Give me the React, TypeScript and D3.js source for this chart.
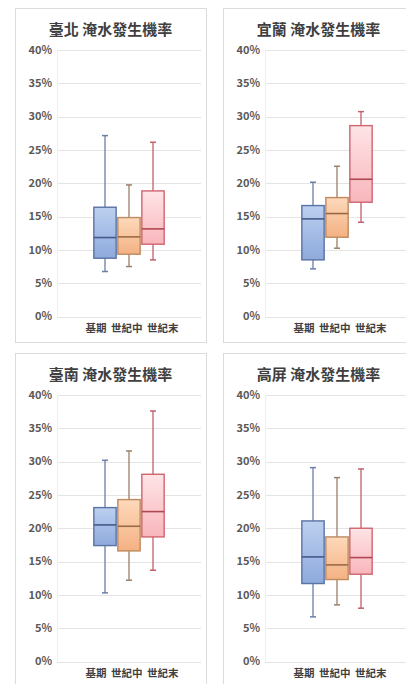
import React, { useEffect, useRef } from "react";
import * as d3 from "d3";

// ---- data ----
const regionTitles = ["臺北 淹水發生機率", "宜蘭 淹水發生機率", "臺南 淹水發生機率", "高屏 淹水發生機率"];
const seriesNames = ["基期", "世紀中", "世紀末"];
const categoryLabel = "基期 世紀中 世紀末";
const yTicks = [0, 5, 10, 15, 20, 25, 30, 35, 40];

// [min, q1, median, q3, max] in %, one entry per region (臺北, 宜蘭, 臺南, 高屏)
const baselineStats = [
  [6.75, 8.75, 11.85, 16.4, 27.15],
  [7.15, 8.5, 14.65, 16.65, 20.15],
  [10.3, 17.4, 20.5, 23.1, 30.2],
  [6.7, 11.7, 15.7, 21.1, 29.1],
];
const midCenturyStats = [
  [7.5, 9.35, 11.95, 14.85, 19.75],
  [10.25, 11.9, 15.45, 17.85, 22.55],
  [12.2, 16.6, 20.3, 24.3, 31.6],
  [8.5, 12.3, 14.5, 18.7, 27.6],
];
const endCenturyStats = [
  [8.5, 10.85, 13.15, 18.85, 26.15],
  [14.15, 17.15, 20.6, 28.65, 30.75],
  [13.7, 18.7, 22.5, 28.1, 37.6],
  [8.0, 13.1, 15.6, 20.0, 28.9],
];

const seriesStats = [baselineStats, midCenturyStats, endCenturyStats];
const seriesStyle = [
  { top: "#bcd0f0", bottom: "#8eaadc", stroke: "#5a72a4", median: "#46598a", whisker: "#6a7ea8" },
  { top: "#fdd9bb", bottom: "#f4b183", stroke: "#bf8a5e", median: "#9b6a44", whisker: "#9a8068" },
  { top: "#fee4e6", bottom: "#f8b6bc", stroke: "#d0646f", median: "#b04652", whisker: "#c0606a" },
];

const W = 406;
const H = 684;
const panelOrigins = [
  [15, 8],
  [223, 8],
  [15, 353],
  [223, 353],
];
const panelW = 191;
const panelH = 334;
const plotLeft = 42;
const plotRight = 186;
const plotTop = 42;
const plotBottom = 308.5;
const fontFamily = "'Noto Sans CJK TC', 'Noto Sans', sans-serif";

export default function App() {
  const ref = useRef<SVGSVGElement | null>(null);

  useEffect(() => {
    const svg = d3.select(ref.current);
    svg.selectAll("*").remove();

    const defs = svg.append("defs");
    seriesStyle.forEach((s, i) => {
      const g = defs
        .append("linearGradient")
        .attr("id", `grad${i}`)
        .attr("x1", 0)
        .attr("y1", 0)
        .attr("x2", 0)
        .attr("y2", 1);
      g.append("stop").attr("offset", "0%").attr("stop-color", s.top);
      g.append("stop").attr("offset", "100%").attr("stop-color", s.bottom);
    });

    svg.append("rect").attr("width", W).attr("height", H).attr("fill", "#ffffff");

    const y = d3.scaleLinear().domain([0, 40]).range([plotBottom, plotTop]);
    const xCat = d3.scaleBand().domain([categoryLabel]).range([plotLeft, plotRight]);
    const center = (xCat(categoryLabel) as number) + xCat.bandwidth() / 2;
    const xSeries = d3
      .scaleBand()
      .domain(seriesNames)
      .range([center - 36, center + 36])
      .paddingInner(0.07)
      .paddingOuter(0.035);

    regionTitles.forEach((title, r) => {
      const [ox, oy] = panelOrigins[r];
      const p = svg.append("g").attr("transform", `translate(${ox},${oy})`);

      p.append("rect")
        .attr("x", 0.5)
        .attr("y", 0.5)
        .attr("width", panelW)
        .attr("height", panelH)
        .attr("fill", "#ffffff")
        .attr("stroke", "#dcdcdc")
        .attr("stroke-width", 1);

      p.append("text")
        .attr("x", panelW / 2)
        .attr("y", 27)
        .attr("text-anchor", "middle")
        .attr("font-family", fontFamily)
        .attr("font-weight", "bold")
        .attr("font-size", 15)
        .attr("fill", "#3f3f3f")
        .text(title);

      // gridlines
      p.selectAll(".grid")
        .data(yTicks)
        .enter()
        .append("line")
        .attr("x1", plotLeft)
        .attr("x2", plotRight)
        .attr("y1", (d) => Math.round(y(d)) + 0.5)
        .attr("y2", (d) => Math.round(y(d)) + 0.5)
        .attr("stroke", "#e4e4e4")
        .attr("stroke-width", 1);

      // left faint axis line
      p.append("line")
        .attr("x1", plotLeft + 0.5)
        .attr("x2", plotLeft + 0.5)
        .attr("y1", plotTop)
        .attr("y2", plotBottom)
        .attr("stroke", "#efefef");

      p.selectAll(".ylab")
        .data(yTicks)
        .enter()
        .append("text")
        .attr("x", plotLeft - 5)
        .attr("y", (d) => y(d))
        .attr("dy", "0.35em")
        .attr("text-anchor", "end")
        .attr("font-family", fontFamily)
        .attr("font-weight", "bold")
        .attr("font-size", 11)
        .attr("fill", "#595959")
        .text((d) => `${d}%`);

      p.append("text")
        .attr("x", center + 3)
        .attr("y", plotBottom + 15)
        .attr("text-anchor", "middle")
        .attr("font-family", fontFamily)
        .attr("font-weight", "bold")
        .attr("font-size", 10.5)
        .attr("word-spacing", 2)
        .attr("fill", "#404040")
        .text(categoryLabel);

      seriesNames.forEach((name, s) => {
        const [mn, q1, md, q3, mx] = seriesStats[s][r];
        const st = seriesStyle[s];
        const bx = xSeries(name) as number;
        const bw = xSeries.bandwidth();
        const cx = bx + bw / 2;
        const g = p.append("g");

        // whiskers
        g.append("line")
          .attr("x1", cx)
          .attr("x2", cx)
          .attr("y1", y(mx))
          .attr("y2", y(q3))
          .attr("stroke", st.whisker)
          .attr("stroke-width", 1.3);
        g.append("line")
          .attr("x1", cx)
          .attr("x2", cx)
          .attr("y1", y(q1))
          .attr("y2", y(mn))
          .attr("stroke", st.whisker)
          .attr("stroke-width", 1.3);
        [mn, mx].forEach((v) => {
          g.append("line")
            .attr("x1", cx - 3)
            .attr("x2", cx + 3)
            .attr("y1", y(v))
            .attr("y2", y(v))
            .attr("stroke", st.whisker)
            .attr("stroke-width", 1.5);
        });

        // box
        g.append("rect")
          .attr("x", bx)
          .attr("y", y(q3))
          .attr("width", bw)
          .attr("height", y(q1) - y(q3))
          .attr("fill", `url(#grad${s})`)
          .attr("stroke", st.stroke)
          .attr("stroke-width", 1.4);

        // median
        g.append("line")
          .attr("x1", bx)
          .attr("x2", bx + bw)
          .attr("y1", y(md))
          .attr("y2", y(md))
          .attr("stroke", st.median)
          .attr("stroke-width", 1.6);
      });
    });
  }, []);

  return (
    <svg
      ref={ref}
      width={W}
      height={H}
      style={{ position: "absolute", left: 0, top: 0, display: "block" }}
    />
  );
}
